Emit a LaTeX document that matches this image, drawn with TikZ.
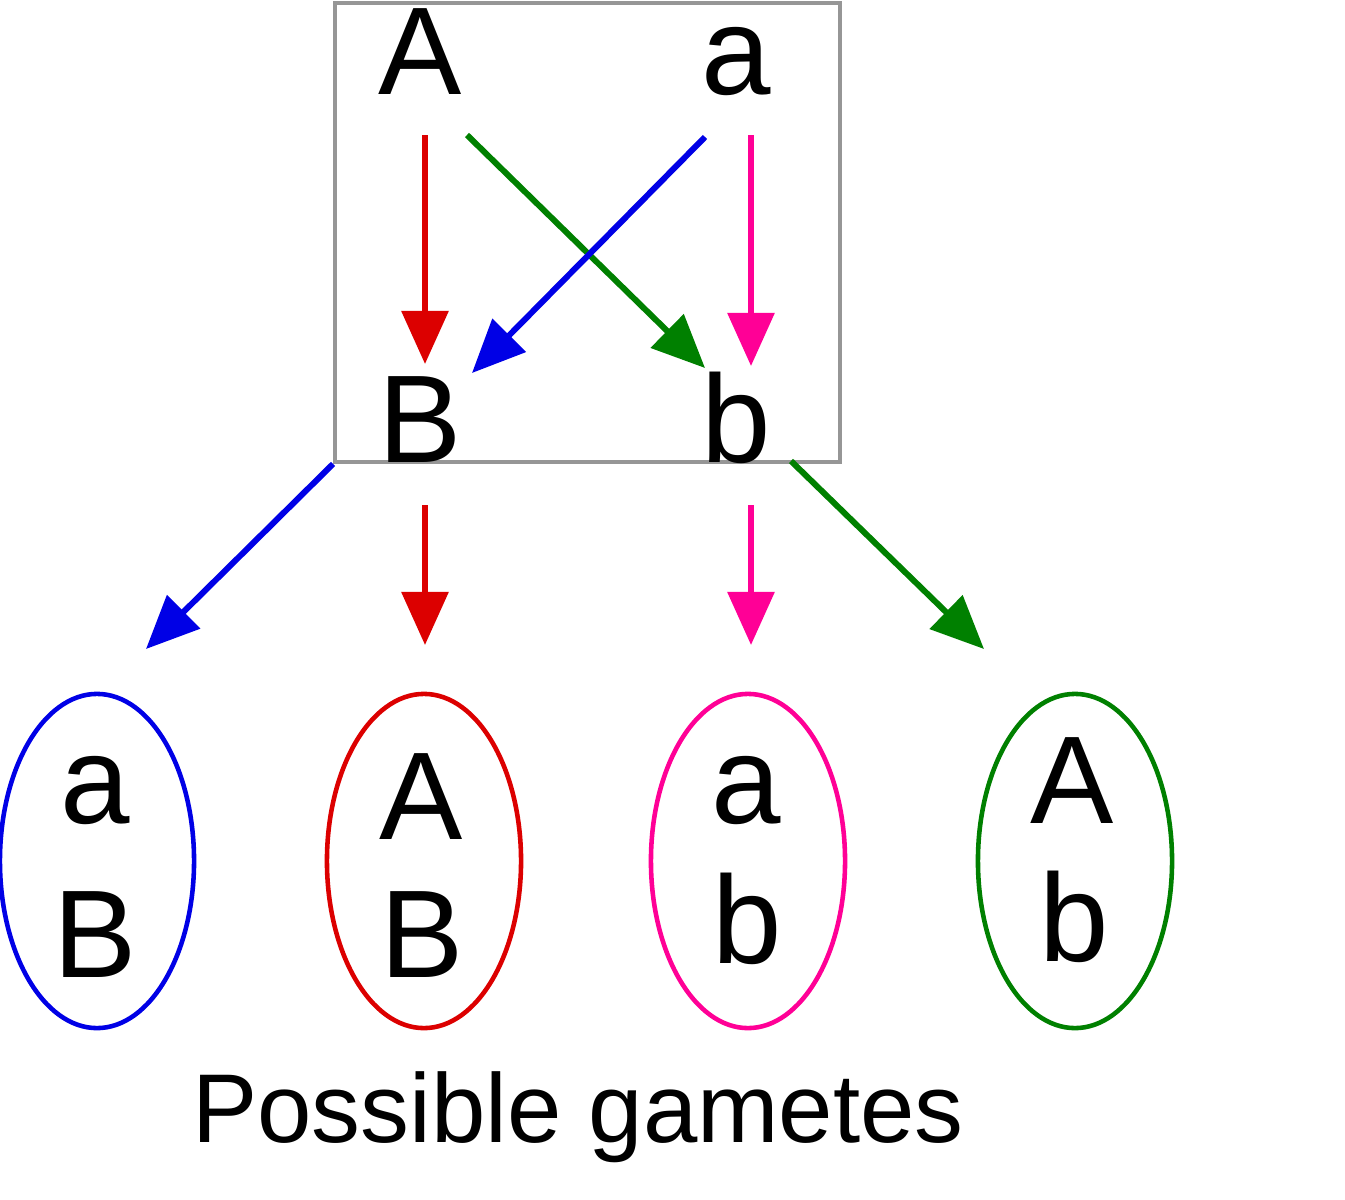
\documentclass[tikz,border=0pt]{standalone}
\usepackage{fontspec}
\setmainfont{Liberation Sans}
\usetikzlibrary{arrows.meta,shapes.geometric}
\definecolor{cred}{RGB}{220,0,0}
\definecolor{cpink}{RGB}{255,0,150}
\definecolor{cgreen}{RGB}{0,128,0}
\definecolor{cblue}{RGB}{0,0,230}
\definecolor{cgray}{RGB}{150,150,150}
\tikzset{
  letter/.style={anchor=base,inner sep=0pt,font=\fontsize{35.5}{43}\selectfont},
  caption/.style={anchor=base,inner sep=0pt,font=\fontsize{27.8}{33}\selectfont},
  arr/.style={line width=1.7pt,-{Triangle[length=5.3mm,width=4.6mm]}},
  gam/.style={draw,ellipse,line width=1.3pt,minimum width=1.94cm,minimum height=3.34cm,inner sep=0pt},
  frame/.style={draw=cgray,line width=1pt,minimum width=5.05cm,minimum height=4.59cm,inner sep=0pt}
}
\begin{document}
\begin{tikzpicture}[x=0.01cm,y=-0.01cm]
\useasboundingbox[fill=white] (0,0) rectangle (1345,1200);
% frame
\node[frame] (box) at (587.5,232.5) {};
% top letters
\node[letter] (A) at (420,94) {A};
\node[letter] (a) at (736,94) {a};
\node[letter] (B) at (420,462) {B};
\node[letter] (b) at (736,462) {b};
% arrow end points
\coordinate (r1) at (425,135);  \coordinate (r2) at (425,364);
\coordinate (p1) at (751,135);  \coordinate (p2) at (751,366);
\coordinate (g1) at (467,135);  \coordinate (g2) at (705,368);
\coordinate (b1) at (705,137);  \coordinate (b2) at (472,373);
\draw[arr,cred] (r1) -- (r2);
\draw[arr,cpink] (p1) -- (p2);
\draw[arr,cgreen] (g1) -- (g2);
\draw[arr,cblue] (b1) -- (b2);
% lower arrows
\coordinate (lb2) at (146,649);
\coordinate (lr1) at (425,505); \coordinate (lr2) at (425,645);
\coordinate (lp1) at (751,505); \coordinate (lp2) at (751,645);
\coordinate (lg1) at (791,461); \coordinate (lg2) at (984,649);
\draw[arr,cblue] (box.south west) -- (lb2);
\draw[arr,cred] (lr1) -- (lr2);
\draw[arr,cpink] (lp1) -- (lp2);
\draw[arr,cgreen] (lg1) -- (lg2);
% gametes
\node[gam,cblue] (e1) at (97,861) {};
\node[gam,cred] (e2) at (424,861) {};
\node[gam,cpink] (e3) at (748,861) {};
\node[gam,cgreen] (e4) at (1075,861) {};
\node[letter] (t1) at (95,823) {a};
\node[letter] (u1) at (95,977) {B};
\node[letter] (t2) at (421,839) {A};
\node[letter] (u2) at (422,977) {B};
\node[letter] (t3) at (746,823) {a};
\node[letter] (u3) at (747,963) {b};
\node[letter] (t4) at (1072,823) {A};
\node[letter] (u4) at (1074,961) {b};
\node[caption] (cap) at (578,1142) {Possible gametes};
\end{tikzpicture}
\end{document}
